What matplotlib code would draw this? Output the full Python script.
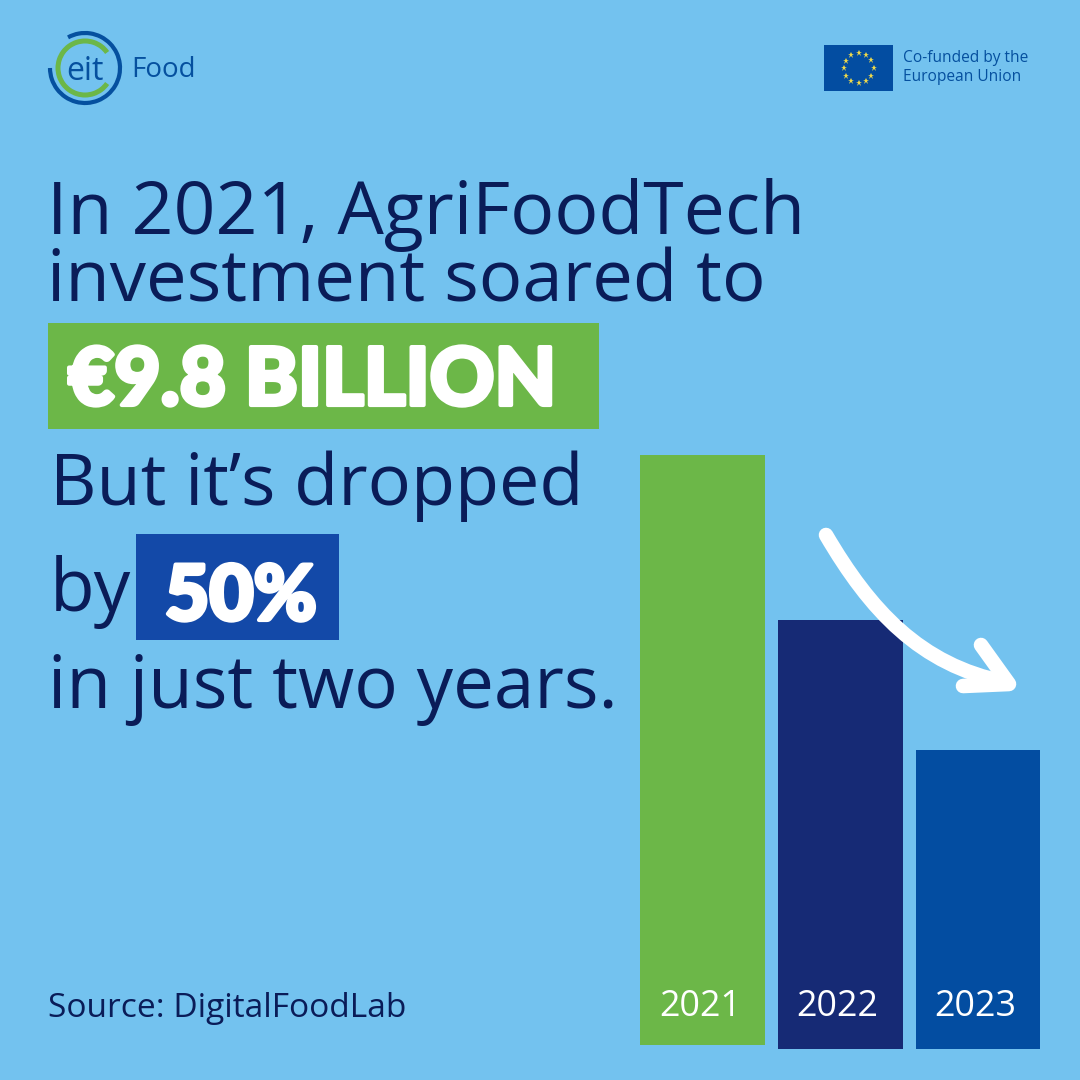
#!/usr/bin/env python3

import numpy as np
import matplotlib
matplotlib.use('Agg')
from matplotlib import pyplot as plt
from matplotlib import patheffects as pe
from matplotlib.patches import Arc, Rectangle, PathPatch
from matplotlib.path import Path

years = ['2021', '2022', '2023']
invest_bn = [9.8, 7.08, 4.93]
bar_colors = ['#6cb748', '#162a75', '#034da1']

headline = ['In 2021, AgriFoodTech', 'investment soared to']
body_lines = ['But it\u2019s dropped', 'by', 'in just two years.']

BG = '#73c2ef'
NAVY = '#0a1c58'
LOGO = '#05509f'

fig = plt.figure(figsize=(10.8, 10.8), dpi=100, facecolor=BG)

# overlay in pixel coords for text, logos and boxes
ax = fig.add_axes([0, 0, 1, 1])
ax.set_xlim(0, 1080)
ax.set_ylim(1080, 0)
ax.axis('off')

# bars get their own axes, scaled so 9.8bn is 594px
ax_bars = fig.add_axes([640 / 1080, 31 / 1080, 400 / 1080, 594 / 1080])
ax_bars.patch.set_alpha(0)
ax_bars.set_xlim(-62.5 / 138, (400 - 62.5) / 138)
ax_bars.set_ylim(0, 9.8)
ax_bars.axis('off')
bottoms = [0.066, 0, 0]
for i in range(len(years)):
    ax_bars.bar(i, invest_bn[i] - bottoms[i], bottom=bottoms[i], width=125 / 138, color=bar_colors[i])
    ax_bars.text(i - 0.02, 0.69, years[i], color='white', fontsize=25.8, family='Open Sans', ha='center', va='center')

# arrow on top of the bars
ax_top = fig.add_axes([0, 0, 1, 1])
ax_top.set_xlim(0, 1080)
ax_top.set_ylim(1080, 0)
ax_top.axis('off')
ax_top.patch.set_alpha(0)
curve = Path([(826, 535), (870, 610), (920, 665), (1005, 682)], [Path.MOVETO, Path.CURVE4, Path.CURVE4, Path.CURVE4])
ax_top.add_patch(PathPatch(curve, fc='none', ec='white', lw=10.5, capstyle='round'))
ax_top.plot([981, 1009, 963], [645, 684, 686], color='white', lw=10.5, solid_capstyle='round', solid_joinstyle='round')

# headline
ax.text(47, 234, headline[0], color=NAVY, fontsize=52.8, family='Open Sans', va='baseline', ha='left')
ax.text(47, 302, headline[1], color=NAVY, fontsize=52.2, family='Open Sans', va='baseline', ha='left')

heavy = [pe.withStroke(linewidth=3, foreground='white')]

ax.add_patch(Rectangle((48, 323), 551, 106, fc='#6cb748', ec='none'))
ax.text(68, 405, '\u20ac9.8 BILLION', color='white', fontsize=57.5, family='Lato', weight='black',
        va='baseline', ha='left', path_effects=heavy)

ax.text(50, 505, body_lines[0], color=NAVY, fontsize=51.8, family='Open Sans', va='baseline', ha='left')
ax.text(50, 611, body_lines[1], color=NAVY, fontsize=52.6, family='Open Sans', va='baseline', ha='left')
ax.add_patch(Rectangle((136, 534), 203, 106, fc='#1349a8', ec='none'))
ax.text(165, 620, '50%', color='white', fontsize=55, family='Lato', weight='black',
        va='baseline', ha='left', path_effects=heavy)
ax.text(48, 708, body_lines[2], color=NAVY, fontsize=52.3, family='Open Sans', va='baseline', ha='left')

ax.text(48, 1017, 'Source: DigitalFoodLab', color=NAVY, fontsize=24.1, family='Open Sans', va='baseline', ha='left')

# eit logo
ax.add_patch(Arc((85, 68), 54, 54, theta1=35, theta2=325, ec='#6cb748', lw=3.6))
ax.add_patch(Arc((85, 68), 70, 70, theta1=-119, theta2=180, ec=LOGO, lw=3))
ax.text(85, 80, 'eit', color=LOGO, fontsize=23, family='Open Sans', ha='center', va='baseline')
ax.text(131, 77, 'Food', color=LOGO, fontsize=20, family='Open Sans', ha='left', va='baseline')

# EU flag
ax.add_patch(Rectangle((824, 45), 69, 46, fc='#034da1', ec='none'))
for a in np.arange(0, 360, 30):
    ax.plot(858.5 + 15 * np.cos(np.radians(a)), 68 + 15 * np.sin(np.radians(a)), marker='*', ms=5, color='#f0d94a', mew=0)
ax.text(903, 62, 'Co-funded by the', color=LOGO, fontsize=11.2, family='Open Sans', va='baseline', ha='left')
ax.text(903, 81, 'European Union', color=LOGO, fontsize=11.2, family='Open Sans', va='baseline', ha='left')

fig.savefig('out.png', dpi=100, facecolor=BG)
